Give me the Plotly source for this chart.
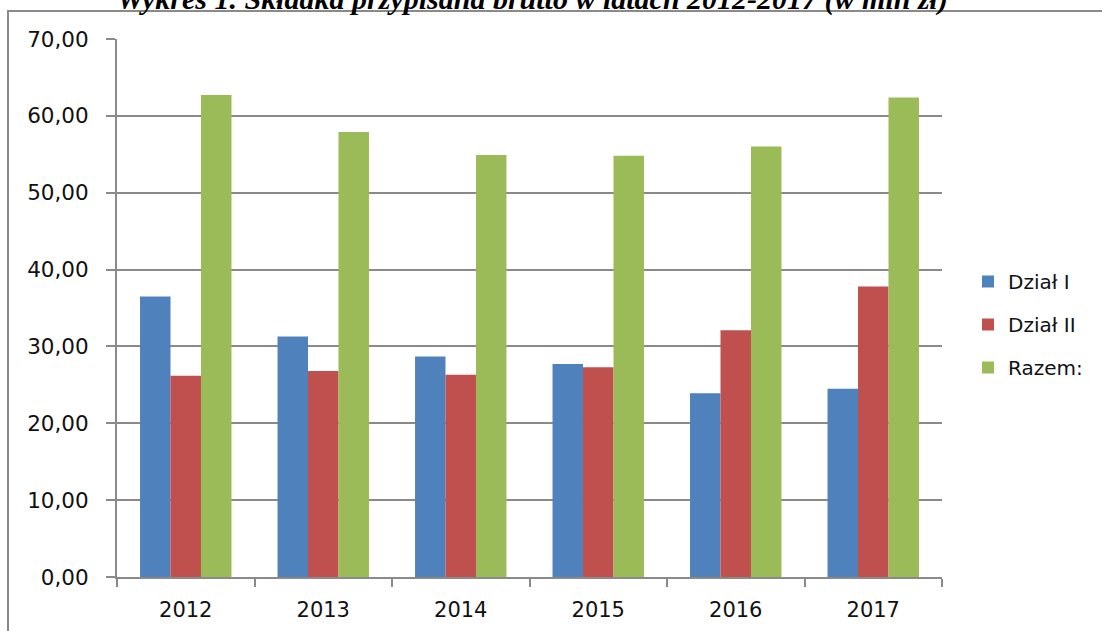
import plotly.graph_objects as go

years = ["2012", "2013", "2014", "2015", "2016", "2017"]
dzial_1 = [36.5, 31.3, 28.7, 27.7, 23.9, 24.5]
dzial_2 = [26.2, 26.8, 26.3, 27.3, 32.1, 37.8]
razem = [62.7, 57.9, 54.9, 54.8, 56.0, 62.4]

series_names = ["Dział I", "Dział II", "Razem:"]
series_colors = ["#4F81BD", "#C0504D", "#9BBB59"]
title_text = "Wykres 1. Składka przypisana brutto w latach 2012-2017 (w mln zł)"

W, H = 1102, 631
L, R, T, B = 117, 942, 39, 577

def px_x(p):
    return (p - L) / (R - L)

def px_y(p):
    return (B - p) / (B - T)

fig = go.Figure()
for name, vals, col in zip(series_names, [dzial_1, dzial_2, razem], series_colors):
    fig.add_trace(go.Bar(
        x=years, y=vals, name=name, legendgroup=name,
        marker=dict(color=col, line=dict(width=0)),
    ))

grid_col = "#8a8a8a"
fig.update_layout(
    width=W, height=H,
    margin=dict(l=L, r=W - R, t=T, b=H - B, pad=0, autoexpand=False),
    paper_bgcolor="white", plot_bgcolor="white",
    separators=", ",
    barmode="group", bargap=0.335, bargroupgap=0,
    font=dict(family="DejaVu Sans", size=20, color="#111111"),
    showlegend=True,
    legend=dict(
        x=px_x(968), xanchor="left", y=px_y(262), yanchor="top",
        font=dict(family="DejaVu Sans", size=20, color="#111111"),
        tracegroupgap=14, itemwidth=30, bgcolor="rgba(0,0,0,0)",
    ),
    xaxis=dict(
        type="category", tickson="boundaries", ticks="outside", ticklen=8,
        tickcolor=grid_col, tickwidth=2, showline=True, linecolor=grid_col,
        linewidth=2, showgrid=False, tickfont=dict(size=21, family="DejaVu Sans"),
        ticklabelstandoff=13, automargin=False,
    ),
    yaxis=dict(
        range=[0, 70], dtick=10, tickformat=".2f", ticks="outside", ticklen=9,
        tickcolor=grid_col, tickwidth=2, showline=True, linecolor=grid_col,
        linewidth=2, showgrid=True, gridcolor=grid_col, gridwidth=2,
        zeroline=False, tickfont=dict(size=21.5, family="DejaVu Sans"),
        ticklabelstandoff=13, automargin=False,
    ),
    shapes=[dict(
        type="rect", xref="paper", yref="paper",
        x0=px_x(8), x1=px_x(1115), y0=px_y(645), y1=px_y(11),
        line=dict(color="#8a8a8a", width=2), fillcolor="rgba(0,0,0,0)", layer="below",
    )],
    annotations=[dict(
        text="<b><i>" + title_text + "</i></b>", xref="paper", yref="paper",
        x=px_x(532), y=px_y(18), xanchor="center", yanchor="bottom",
        showarrow=False, font=dict(family="Liberation Serif", size=30, color="#000000"),
    )],
)

fig.write_html(
    "out.html",
    config={"displayModeBar": False},
    post_script="document.body.style.margin='0';document.body.style.overflow='hidden';",
)
